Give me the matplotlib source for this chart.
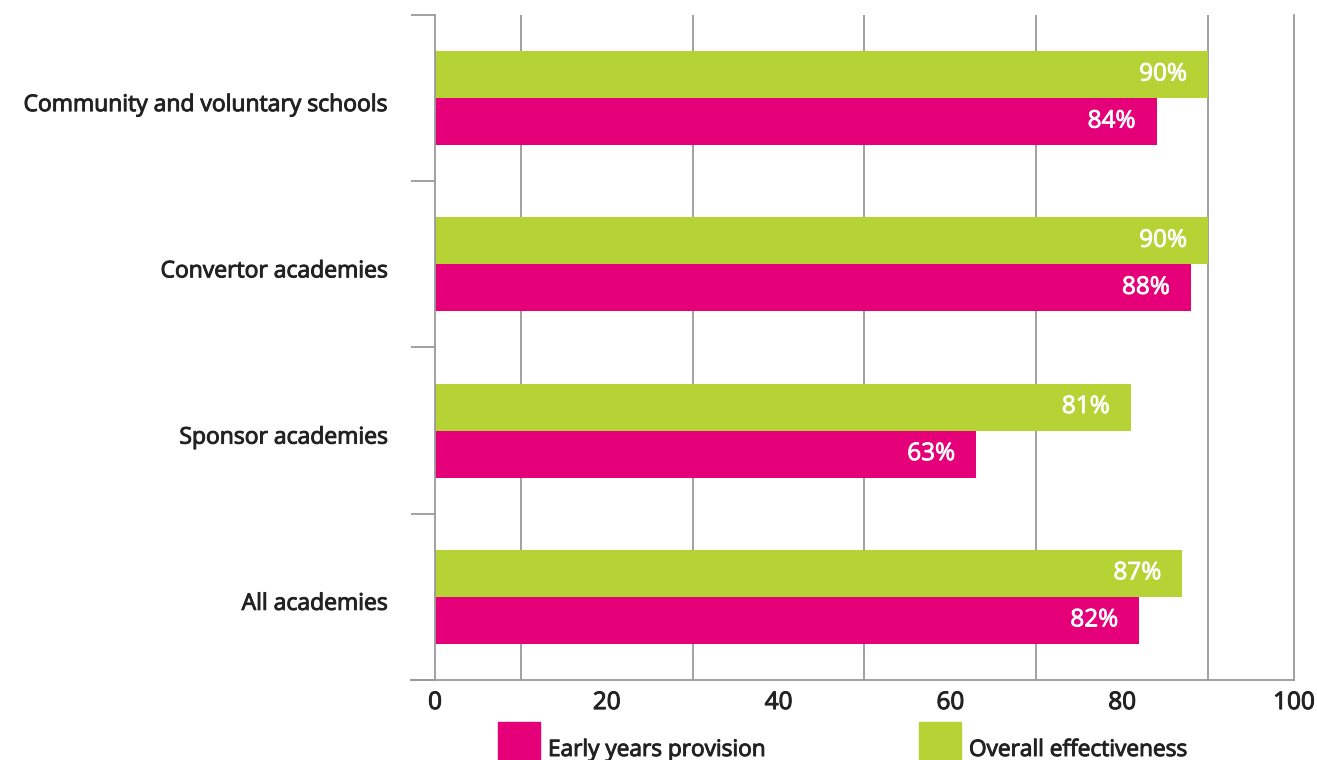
import matplotlib
matplotlib.use("Agg")
import matplotlib.pyplot as plt
import matplotlib.patheffects as pe
import matplotlib.transforms as mtransforms
from matplotlib.patches import Rectangle
import numpy as np

categories = ["Community and voluntary schools", "Convertor academies",
              "Sponsor academies", "All academies"]
early_years = [84, 88, 63, 82]
overall = [90, 90, 81, 87]
series_names = ["Early years provision", "Overall effectiveness"]
x_ticks = [0, 20, 40, 60, 80, 100]

PINK = "#E5007A"
GREEN = "#B5D334"
GRID = "#9A9A9A"
TEXT = "#222222"

plt.rcParams["font.family"] = ["Open Sans", "DejaVu Sans"]

# slightly heavier strokes for the text
dark_fx = [pe.withStroke(linewidth=0.7, foreground=TEXT)]
white_fx = [pe.withStroke(linewidth=0.6, foreground="white")]

fig = plt.figure(figsize=(13.17, 7.6), dpi=100)
ax = fig.add_axes([0.3303, 0.1053, 0.6522, 0.875])

y = np.arange(len(categories))
h = 0.283

bars_g = ax.barh(y - h / 2, overall, height=h, color=GREEN, zorder=2)
bars_p = ax.barh(y + h / 2, early_years, height=h, color=PINK, zorder=2)

for bars, vals in ((bars_g, overall), (bars_p, early_years)):
    for b, v in zip(bars, vals):
        ax.annotate(f"{v}%", xy=(v, b.get_y() + b.get_height() / 2),
                    xytext=(-21, 0), textcoords="offset pixels",
                    ha="right", va="center", color="white",
                    fontsize=17.5, zorder=3, path_effects=white_fx)

ax.set_xlim(0, 100)
ax.set_ylim(len(categories) - 0.5, -0.5)

# vertical gridlines every 10 units, including the right edge
ax.set_xticks(np.arange(0, 101, 10), minor=True)
ax.xaxis.grid(True, which="minor", color=GRID, linewidth=1.3, zorder=1)
ax.axvline(100, color=GRID, linewidth=1.3, zorder=1, clip_on=False)
ax.set_xticks(x_ticks)
ax.set_xticklabels([str(t) for t in x_ticks], fontsize=17.5, color=TEXT,
                   path_effects=dark_fx)
ax.tick_params(axis="x", which="both", length=0, pad=8)

ax.set_yticks(y)
ax.set_yticklabels(categories, fontsize=16.5, color=TEXT, path_effects=dark_fx)
ax.set_yticks(np.arange(-0.5, len(categories), 1.0), minor=True)
ax.tick_params(axis="y", which="major", length=0, pad=34)
ax.tick_params(axis="y", which="minor", length=17, width=1.3, color=GRID)
shift = mtransforms.ScaledTranslation(0, -4 / 100, fig.dpi_scale_trans)
for lbl in ax.get_yticklabels():
    lbl.set_transform(lbl.get_transform() + shift)

for s in ("top", "right"):
    ax.spines[s].set_visible(False)
ax.spines["left"].set_color(GRID)
ax.spines["left"].set_linewidth(1.3)
ax.spines["bottom"].set_color(GRID)
ax.spines["bottom"].set_linewidth(1.3)
ax.spines["bottom"].set_bounds(-2.8, 100)

# legend drawn as squares with labels below the axis
legend_items = [(series_names[0], PINK, 498), (series_names[1], GREEN, 919)]
for name, col, px in legend_items:
    fig.patches.append(Rectangle((px / 1317, 0), 42 / 1317, 38 / 760,
                                 transform=fig.transFigure, color=col))
    fig.text((px + 50) / 1317, 10 / 760, name, fontsize=16.3,
             color=TEXT, ha="left", va="center", path_effects=dark_fx)

fig.savefig("out.png", dpi=100)
